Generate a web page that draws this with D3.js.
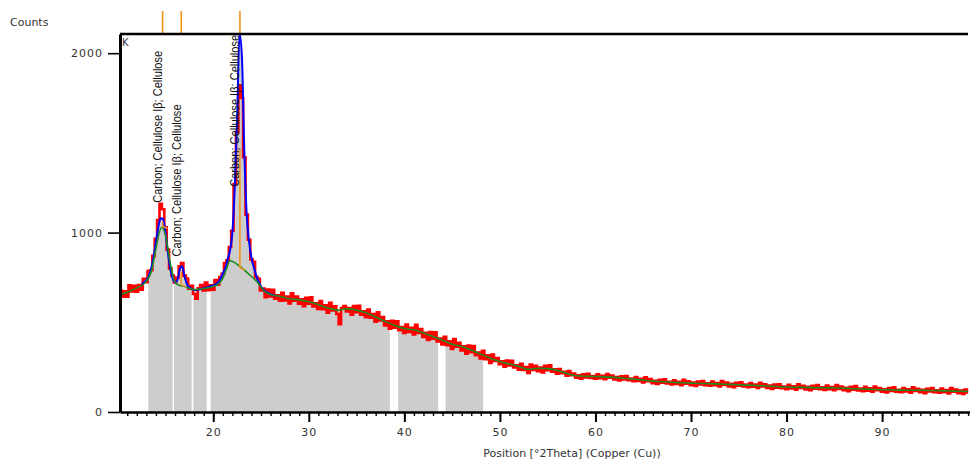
<!DOCTYPE html>
<html>
<head>
<meta charset="utf-8">
<script src="https://cdn.jsdelivr.net/npm/d3@7"></script>
<style>
  body { margin: 0; background: #fff; }
  text { font-family: "DejaVu Sans", sans-serif; }
</style>
</head>
<body>
<div id="chart"></div>
<script>
// observed counts, one row per degree (x.25, x.5, x.75, x+1)
const obsStart = 10.25;
const obsStep = 0.25;
const observed = [
  678, 643, 673, 642,
  706, 672, 704, 670,
  707, 682, 742, 723,
  786, 790, 870, 965,
  1070, 1160, 1130, 1030,
  905, 800, 760, 722,
  750, 812, 830, 760,
  744, 687, 703, 658,
  632, 690, 707, 678,
  721, 679, 706, 682,
  736, 710, 752, 770,
  830, 845, 920, 1010,
  1270, 1560, 1820, 1750,
  1420, 1100, 960, 850,
  837, 752, 743, 678,
  688, 640, 682, 644,
  681, 632, 651, 620,
  665, 622, 644, 605,
  661, 620, 644, 603,
  628, 590, 637, 603,
  639, 588, 606, 574,
  618, 573, 595, 554,
  609, 566, 589, 546,
  490, 580, 591, 560,
  579, 542, 590, 556,
  592, 543, 561, 529,
  571, 526, 546, 504,
  556, 510, 529, 483,
  505, 464, 508, 470,
  506, 456, 473, 441,
  487, 446, 470, 432,
  486, 441, 463, 418,
  441, 401, 446, 409,
  444, 393, 409, 376,
  419, 373, 394, 352,
  407, 364, 386, 343,
  366, 325, 370, 333,
  367, 316, 332, 298,
  341, 295, 316, 274,
  320, 285, 301, 266,
  283, 253, 287, 259,
  286, 248, 261, 236,
  268, 234, 250, 218,
  264, 235, 257, 228,
  248, 221, 258, 233,
  261, 224, 238, 214,
  240, 216, 224, 202,
  228, 205, 214, 191,
  204, 185, 210, 193,
  213, 190, 200, 186,
  210, 189, 202, 183,
  211, 191, 203, 182,
  195, 176, 199, 182,
  201, 177, 187, 172,
  195, 173, 185, 165,
  193, 171, 183, 161,
  174, 156, 180, 163,
  182, 159, 169, 154,
  177, 157, 169, 150,
  179, 158, 171, 150,
  164, 145, 170, 153,
  173, 150, 160, 146,
  170, 149, 162, 143,
  172, 151, 164, 143,
  157, 138, 163, 146,
  166, 142, 153, 138,
  161, 141, 153, 134,
  163, 142, 155, 134,
  147, 129, 153, 136,
  155, 132, 142, 127,
  151, 131, 143, 125,
  154, 134, 146, 126,
  140, 122, 146, 130,
  150, 127, 137, 123,
  147, 127, 139, 121,
  150, 129, 142, 121,
  135, 116, 141, 124,
  144, 120, 131, 116,
  140, 119, 132, 113,
  142, 121, 134, 113,
  127, 109, 133, 117,
  137, 113, 124, 110,
  134, 114, 126, 108,
  137, 117, 130, 110,
  124, 105, 130, 114,
  134, 111, 121, 107,
  131, 110, 123, 104,
  133, 113, 125, 105,
  119, 100, 125, 109,
];

// calculated profile around the peaks
const calcStart = 12.5;
const calcStep = 0.25;
const calculated = [
  712, 722, 735, 758, 800, 865, 950, 1030, 1080, 1075,
  1000, 890, 800, 745, 722, 735, 795, 812, 755, 712,
  695, 685, 680, 680, 683, 687, 690, 693, 697, 702,
  706, 712, 722, 742, 772, 800, 850, 900, 1000, 1250,
  1640, 2110, 1980, 1450, 1100, 950, 860, 805, 760, 725,
  700, 682, 670, 662, 656, 652, 648,
];

// background
const bgPos = [
  10, 11, 12, 13, 13.5, 14, 14.3, 14.6, 15, 15.5, 16, 16.5, 17, 17.5, 18,
  19, 20, 20.5, 21, 21.4, 21.75, 22.8, 23.8, 24.5, 25.6, 26, 27, 28, 29, 30,
  31, 32, 33, 34, 35, 36, 37, 38, 39, 40, 41, 42, 43, 44, 45, 46, 47, 48, 49,
  50, 51, 52, 53, 54, 55, 56, 57, 58, 59, 60, 61, 62, 63, 64, 65, 66, 67, 68,
  69, 70, 71, 72, 73, 74, 75, 76, 77, 78, 79, 80, 81, 82, 83, 84, 85, 86, 87,
  88, 89, 90, 91, 92, 93, 94, 95, 96, 97, 98, 99,
];
const bgVal = [
  650, 668, 692, 728, 780, 910, 990, 1030, 985, 830, 722, 705, 700, 690, 682,
  688, 700, 712, 745, 800, 843, 811, 765, 730, 663, 655, 644, 631, 625, 615,
  598, 580, 568, 575, 568, 553, 530, 505, 482, 465, 458, 440, 421, 400, 378,
  365, 345, 322, 300, 282, 268, 254, 238, 244, 242, 232, 215, 202, 199, 198,
  196, 193, 188, 184, 178, 172, 169, 166, 163, 161, 159, 158, 156, 154, 152,
  150, 147, 145, 142, 139, 138, 137, 136, 135, 134, 132, 130, 128, 126, 124,
  123, 122, 121, 121, 120, 119, 117, 116, 115,
];

// peak list
const peakPos = [14.7, 16.65, 22.79];
const peakBase = [1034, 709, 803];
const peakTop = [1062, 783, 1462];
const peakLabels = [
  "Carbon; Cellulose Iβ; Cellulose",
  "Carbon; Cellulose Iβ; Cellulose",
  "Carbon; Cellulose Iβ; Cellulose",
];
const labelCounts = [1166, 867, 1255];

// shaded ranges
const regionStart = [13.2, 15.89, 17.91, 19.73, 39.35, 44.31];
const regionEnd = [15.75, 17.74, 19.31, 38.48, 43.54, 48.24];

const xMajor = [20, 30, 40, 50, 60, 70, 80, 90];
const yTicks = [0, 1000, 2000];

const width = 970;
const height = 462;
const plot = { left: 120, right: 970, top: 34, bottom: 412 };

const x = d3.scaleLinear().domain([10.24, 99.2]).range([plot.left, plot.right]);
const y = d3.scaleLinear().domain([0, 2107]).range([plot.bottom, plot.top]);

const svg = d3
  .select("#chart")
  .append("svg")
  .attr("width", width)
  .attr("height", height);

const defs = svg.append("defs");
defs
  .append("clipPath")
  .attr("id", "plot-clip")
  .append("rect")
  .attr("x", plot.left)
  .attr("y", plot.top)
  .attr("width", plot.right - plot.left)
  .attr("height", plot.bottom - plot.top);

defs
  .append("clipPath")
  .attr("id", "region-clip")
  .selectAll("rect")
  .data(regionStart)
  .join("rect")
  .attr("x", (d) => x(d))
  .attr("y", plot.top)
  .attr("width", (d, i) => x(regionEnd[i]) - x(d))
  .attr("height", plot.bottom - plot.top);

const obsPoints = observed.map((v, i) => [obsStart + i * obsStep, v]);
const calcPoints = calculated.map((v, i) => [calcStart + i * calcStep, v]);
const calcEnd = calcPoints[calcPoints.length - 1][0];
const bgPoints = bgPos.map((p, i) => [p, bgVal[i]]);
const fillPoints = bgPoints
  .filter((p) => p[0] < calcStart)
  .concat(calcPoints, bgPoints.filter((p) => p[0] > calcEnd));

const g = svg.append("g").attr("clip-path", "url(#plot-clip)");

// grey peak areas
g.append("path")
  .datum(fillPoints)
  .attr("clip-path", "url(#region-clip)")
  .attr("fill", "#cdcdcd")
  .attr(
    "d",
    d3
      .area()
      .x((d) => x(d[0]))
      .y0(y(0))
      .y1((d) => y(d[1]))
      .curve(d3.curveMonotoneX)
  );

const line = d3
  .line()
  .x((d) => x(d[0]))
  .y((d) => y(d[1]));

g.append("path")
  .datum(obsPoints)
  .attr("fill", "none")
  .attr("stroke", "#ff0000")
  .attr("stroke-width", 2.6)
  .attr("d", line.curve(d3.curveStep));

g.append("path")
  .datum(calcPoints)
  .attr("fill", "none")
  .attr("stroke", "#0000ff")
  .attr("stroke-width", 2)
  .attr("d", line.curve(d3.curveMonotoneX));

g.append("path")
  .datum(bgPoints)
  .attr("fill", "none")
  .attr("stroke", "#1e8c1e")
  .attr("stroke-width", 1.6)
  .attr("d", line.curve(d3.curveMonotoneX));

// peak sticks
g.selectAll(".stick")
  .data(peakPos)
  .join("line")
  .attr("class", "stick")
  .attr("x1", (d) => x(d))
  .attr("x2", (d) => x(d))
  .attr("y1", (d, i) => y(peakBase[i]))
  .attr("y2", (d, i) => y(peakTop[i]))
  .attr("stroke", "#f7921e")
  .attr("stroke-width", 1.6);

g.selectAll(".foot")
  .data(peakPos)
  .join("line")
  .attr("class", "foot")
  .attr("x1", (d) => x(d))
  .attr("x2", (d) => x(d) + 5)
  .attr("y1", (d, i) => y(peakBase[i]))
  .attr("y2", (d, i) => y(peakBase[i]) + 2)
  .attr("stroke", "#f7921e")
  .attr("stroke-width", 1.4);

// peak labels
svg
  .selectAll(".plabel")
  .data(peakLabels)
  .join("text")
  .attr("class", "plabel")
  .attr("transform", (d, i) => `translate(${x(peakPos[i]) - 0.5},${y(labelCounts[i])}) rotate(-90)`)
  .attr("textLength", 152)
  .attr("lengthAdjust", "spacingAndGlyphs")
  .style("font-family", '"Liberation Sans Narrow", "Liberation Sans", sans-serif')
  .style("font-size", "12px")
  .attr("fill", "#111")
  .text((d) => d);

// ticks above the frame
svg
  .selectAll(".ptick")
  .data(peakPos)
  .join("line")
  .attr("class", "ptick")
  .attr("x1", (d) => x(d))
  .attr("x2", (d) => x(d))
  .attr("y1", 11)
  .attr("y2", plot.top)
  .attr("stroke", "#f7921e")
  .attr("stroke-width", 1.6);

// frame top
svg
  .append("line")
  .attr("x1", plot.left)
  .attr("x2", plot.right - 2)
  .attr("y1", plot.top)
  .attr("y2", plot.top)
  .attr("stroke", "#000")
  .attr("stroke-width", 2.5);

// x axis
const xMinorAxis = svg
  .append("g")
  .attr("transform", `translate(0,${plot.bottom})`)
  .call(
    d3.axisBottom(x).tickValues(d3.range(11, 100, 1)).tickSize(4).tickSizeOuter(0).tickFormat("")
  );
xMinorAxis.select(".domain").remove();
xMinorAxis.selectAll("line").attr("stroke", "#000").attr("stroke-width", 1.4);

const xAxis = svg
  .append("g")
  .attr("transform", `translate(0,${plot.bottom})`)
  .call(d3.axisBottom(x).tickValues(xMajor).tickSize(10).tickPadding(6).tickSizeOuter(0));
xAxis.select(".domain").attr("stroke-width", 2.5);
xAxis.selectAll("line").attr("stroke-width", 2);
xAxis
  .selectAll("text")
  .attr("fill", "#333")
  .style("font-size", "11px")
  .style("letter-spacing", "1px");

// y axis
const yAxis = svg
  .append("g")
  .attr("transform", `translate(${plot.left},0)`)
  .call(
    d3
      .axisLeft(y)
      .tickValues(yTicks)
      .tickSize(12)
      .tickPadding(5)
      .tickSizeOuter(0)
      .tickFormat(d3.format("d"))
  );
yAxis.select(".domain").attr("stroke-width", 3);
yAxis.selectAll("line").attr("stroke-width", 1.6);
yAxis
  .selectAll("text")
  .attr("fill", "#333")
  .style("font-size", "11px")
  .style("letter-spacing", "1px");

// titles
svg
  .append("text")
  .attr("x", 10)
  .attr("y", 26)
  .attr("fill", "#333")
  .style("font-size", "11px")
  .text("Counts");

svg
  .append("text")
  .attr("x", 122)
  .attr("y", 46)
  .attr("fill", "#334")
  .style("font-size", "10px")
  .text("K");

svg
  .append("text")
  .attr("x", 572)
  .attr("y", 457)
  .attr("text-anchor", "middle")
  .attr("fill", "#333")
  .style("font-size", "11px")
  .text("Position [°2Theta] (Copper (Cu))");
</script>
</body>
</html>
